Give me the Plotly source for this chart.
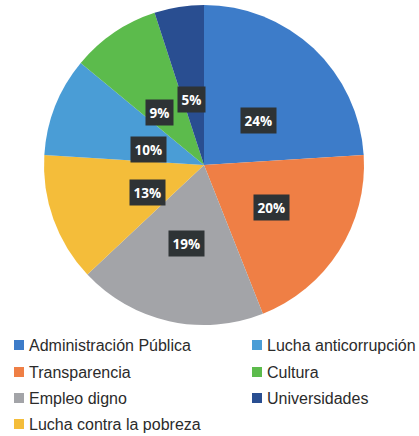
import math
import plotly.graph_objects as go

labels = ["Administración Pública", "Transparencia", "Empleo digno",
          "Lucha contra la pobreza", "Lucha anticorrupción", "Cultura", "Universidades"]
values = [24, 20, 19, 13, 10, 9, 5]
colors = ["#3d7cc9", "#ef7f45", "#a3a4a8", "#f4bd3a", "#4a9dd6", "#5cbb4c", "#294e91"]
legend_order = ["Administración Pública", "Lucha anticorrupción", "Transparencia", "Cultura",
                "Empleo digno", "Universidades", "Lucha contra la pobreza"]

W, H = 419, 436
cx, cy, R = 204, 165, 160  # pixel center / radius of the pie

fig = go.Figure(go.Pie(
    labels=labels, values=values, sort=False, direction="clockwise", rotation=0,
    marker=dict(colors=colors, line=dict(width=0)),
    textinfo="none", hoverinfo="label+percent", showlegend=False,
    domain=dict(x=[(cx - R) / W, (cx + R) / W], y=[1 - (cy + R) / H, 1 - (cy - R) / H]),
))

annotations = []
total = sum(values)
cum = 0
for v in values:
    mid = (cum + v / 2) / total * 2 * math.pi
    cum += v
    px = cx + 0.5 * R * math.sin(mid)
    py = cy - 0.5 * R * math.cos(mid)
    annotations.append(dict(
        x=px / W, y=1 - py / H, xref="paper", yref="paper", showarrow=False,
        text=f"<b>{round(v / total * 100)}%</b>",
        font=dict(family="Open Sans, Liberation Sans, sans-serif", size=13.5, color="white"),
        bgcolor="#2e3335", borderpad=3.5,
    ))

shapes = []
col_x = [14, 252]
row_y = [345, 372, 398, 424]
for i, name in enumerate(legend_order):
    c = colors[labels.index(name)]
    x0 = col_x[i % 2]
    yc = row_y[i // 2]
    shapes.append(dict(type="rect", xref="paper", yref="paper",
                       x0=x0 / W, x1=(x0 + 10) / W, y0=1 - (yc + 5) / H, y1=1 - (yc - 5) / H,
                       fillcolor=c, line=dict(width=0)))
    annotations.append(dict(
        x=(x0 + 13) / W, y=1 - yc / H, xref="paper", yref="paper", showarrow=False,
        xanchor="left", yanchor="middle", text=name,
        font=dict(family="Liberation Sans, Arial, sans-serif", size=16, color="#2b2b2b"),
    ))

fig.update_layout(
    width=W, height=H, margin=dict(l=0, r=0, t=0, b=0),
    paper_bgcolor="white", plot_bgcolor="white",
    annotations=annotations, shapes=shapes,
)
fig.write_html("out.html", config={"displayModeBar": False},
               post_script="document.body.style.margin='0px';")
